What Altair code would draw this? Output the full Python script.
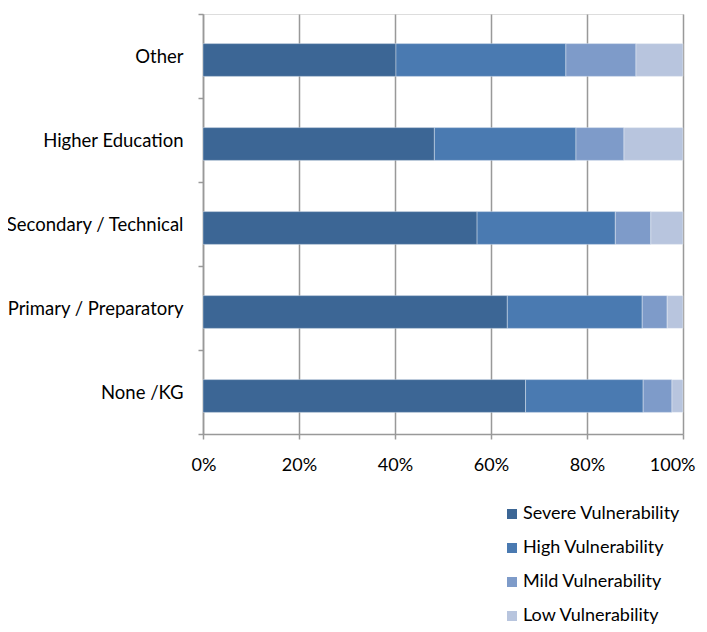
import altair as alt
import pandas as pd

categories = ["Other", "Higher Education", "Secondary / Technical", "Primary / Preparatory", "None /KG"]
levels = ["Severe Vulnerability", "High Vulnerability", "Mild Vulnerability", "Low Vulnerability"]
severe = [40.2, 48.2, 57.1, 63.4, 67.2]
high = [35.4, 29.5, 28.8, 28.1, 24.5]
mild = [14.6, 10.0, 7.4, 5.2, 6.0]
low = [9.8, 12.3, 6.7, 3.3, 2.3]
colors = ["#3C6695", "#4A7AB1", "#7E9BC9", "#B8C5DE"]

rows = []
for i, c in enumerate(categories):
    for j, (lv, arr) in enumerate(zip(levels, [severe, high, mild, low])):
        rows.append({"category": c, "level": lv, "value": arr[i], "rank": j})
df = pd.DataFrame(rows)

FONT = "Lato"
FS = 18

chart = alt.Chart(df).mark_bar(
    yOffset=4, height=alt.RelativeBandSize(0.39),
    stroke="#ffffff", strokeWidth=0.6, strokeOpacity=0.6
).encode(
    x=alt.X("value:Q", stack="normalize",
            scale=alt.Scale(domain=[0, 1], nice=False),
            axis=alt.Axis(format=".0%", values=[0, 0.2, 0.4, 0.6, 0.8, 1.0], title=None,
                          grid=True, gridColor="#999999", gridWidth=1.5,
                          domainColor="#999999", domainWidth=1.5,
                          tickColor="#999999", tickWidth=1.5, tickSize=5,
                          labelFont=FONT, labelFontSize=FS, labelColor="#000000",
                          labelFlush=True, labelFlushOffset=12, labelPadding=17)),
    y=alt.Y("category:N", sort=categories,
            scale=alt.Scale(paddingInner=0, paddingOuter=0),
            axis=alt.Axis(title=None, tickBand="extent", tickColor="#999999", tickWidth=1.5, tickSize=5,
                          domainColor="#999999", domainWidth=1.5,
                          labelFont=FONT, labelFontSize=18.5, labelColor="#000000",
                          labelPadding=15)),
    color=alt.Color("level:N", sort=levels,
                    scale=alt.Scale(domain=levels, range=colors),
                    legend=alt.Legend(title=None, orient="none", legendX=300, legendY=491,
                                      symbolType="square", symbolSize=100, symbolStrokeWidth=0,
                                      labelFont=FONT, labelFontSize=FS, labelColor="#000000",
                                      rowPadding=16, labelOffset=2)),
    order=alt.Order("rank:Q", sort="ascending"),
).properties(
    width=480, height=420,
    autosize=alt.AutoSizeParams(type="none"),
    padding={"left": 195, "top": 6, "right": 16, "bottom": 190},
).configure_view(stroke=None).configure(background="#ffffff")

chart.save("out.html", embed_options={"renderer": "svg", "actions": False})
